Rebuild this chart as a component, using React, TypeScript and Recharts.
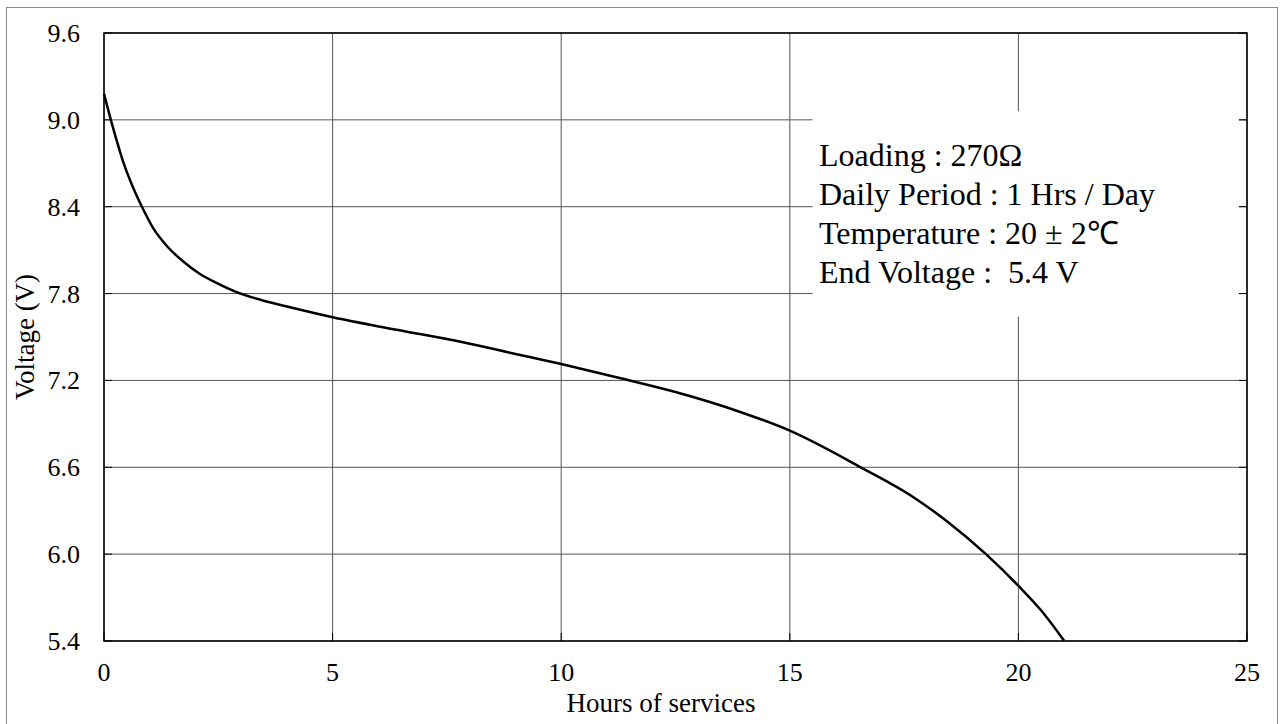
import React from 'react';
import { LineChart, Line, XAxis, YAxis, CartesianGrid, ReferenceArea } from 'recharts';

// discharge curve
const hours = [0, 0.15, 0.28, 0.42, 0.64, 0.83, 1.08, 1.37, 1.74, 2.1, 2.47, 2.9, 3.42, 4.07, 5, 6.4, 7.8, 9, 10, 11.3, 12.5, 13.9, 15, 16.55, 17.72, 18.45, 19.29, 20.02, 20.49, 21.0];
const voltage = [9.18, 9.0, 8.855, 8.71, 8.53, 8.4, 8.25, 8.13, 8.02, 7.935, 7.872, 7.81, 7.757, 7.705, 7.636, 7.55, 7.467, 7.383, 7.313, 7.215, 7.12, 6.984, 6.853, 6.6, 6.39, 6.224, 6.0, 5.775, 5.614, 5.402];

const xTicks = [0, 5, 10, 15, 20, 25];
const yTicks = [5.4, 6.0, 6.6, 7.2, 7.8, 8.4, 9.0, 9.6];

const notes = ['Loading : 270Ω', 'Daily Period : 1 Hrs / Day', 'Temperature : 20 ± 2℃', 'End Voltage :  5.4 V'];

const data = hours.map((h, i) => ({ hours: h, voltage: voltage[i] }));

const W = 1280;
const H = 724;
const margin = { top: 33, right: 33, bottom: 0, left: 0 };
const PLOT_RIGHT = W - margin.right;
const FONT = '"Liberation Serif", "Times New Roman", serif';

const XTick = ({ x, y, payload }: any) => (
  <g>
    <line x1={x} x2={x} y1={y} y2={y - 8} stroke="#000" strokeWidth={1} />
    <text x={x} y={y + 40} textAnchor="middle" fontFamily={FONT} fontSize={26} fill="#000">
      {payload.value}
    </text>
  </g>
);

const YTick = ({ x, y, payload }: any) => (
  <g>
    <line x1={x} x2={x + 8} y1={y} y2={y} stroke="#000" strokeWidth={1} />
    <line x1={PLOT_RIGHT - 8} x2={PLOT_RIGHT} y1={y} y2={y} stroke="#000" strokeWidth={1} />
    <text x={x - 24} y={y + 9} textAnchor="end" fontFamily={FONT} fontSize={26} fill="#000">
      {Number(payload.value).toFixed(1)}
    </text>
  </g>
);

const yTitle = (props: any) => {
  const vb = props.viewBox || { y: 33, height: 608 };
  const cy = vb.y + vb.height / 2;
  return (
    <text transform={`translate(34, ${cy}) rotate(-90)`} textAnchor="middle" fontFamily={FONT} fontSize={27} fill="#000">
      Voltage (V)
    </text>
  );
};

const xTitle = () => (
  <text x={661} y={712} textAnchor="middle" fontFamily={FONT} fontSize={27} fill="#000">
    Hours of services
  </text>
);

export default function App() {
  return (
    <div style={{ position: 'absolute', left: 0, top: 0, width: W, height: H, background: '#fff', overflow: 'hidden' }}>
      <div style={{ position: 'absolute', left: 6, top: 7, width: 1270, height: 740, border: '1px solid #8a8a8a' }} />
      <div style={{ position: 'absolute', left: 0, top: 0 }}>
        <LineChart width={W} height={H} data={data} margin={margin}>
          <CartesianGrid stroke="#555" strokeWidth={1} />
          <ReferenceArea x1={15.5} x2={24.82} y1={7.64} y2={9.06} fill="#fff" fillOpacity={1} stroke="none" />
          <ReferenceArea x1={0} x2={25} y1={5.4} y2={9.6} fill="none" stroke="#000" strokeWidth={1.5} />
          <XAxis
            type="number"
            dataKey="hours"
            domain={[0, 25]}
            ticks={xTicks}
            height={83}
            tickSize={0}
            tickMargin={0}
            axisLine={false}
            tickLine={false}
            tick={<XTick />}
            label={{ content: xTitle }}
          />
          <YAxis
            type="number"
            domain={[5.4, 9.6]}
            ticks={yTicks}
            width={104}
            tickSize={0}
            tickMargin={0}
            axisLine={false}
            tickLine={false}
            tick={<YTick />}
            label={{ content: yTitle }}
          />
          <Line
            type="monotone"
            dataKey="voltage"
            stroke="#000"
            strokeWidth={2.5}
            dot={false}
            isAnimationActive={false}
          />
        </LineChart>
      </div>
      <div
        style={{
          position: 'absolute',
          left: 819,
          top: 136,
          fontFamily: FONT,
          fontSize: 32,
          lineHeight: '39px',
          color: '#000',
          whiteSpace: 'pre',
        }}
      >
        {notes.map((n) => (
          <div key={n}>{n}</div>
        ))}
      </div>
    </div>
  );
}
